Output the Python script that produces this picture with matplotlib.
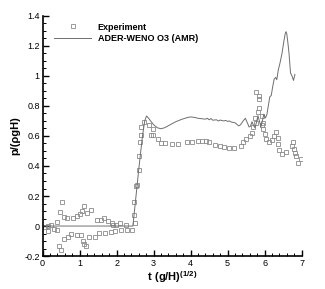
import matplotlib
matplotlib.use("Agg")
import matplotlib.pyplot as plt
from matplotlib.ticker import MultipleLocator

plt.rcParams["font.family"] = ["Liberation Sans", "DejaVu Sans"]
plt.rcParams["mathtext.fontset"] = "custom"
plt.rcParams["mathtext.rm"] = "Liberation Sans"
plt.rcParams["mathtext.bf"] = "Liberation Sans:bold"

# ADER-WENO O3 (AMR) simulation
sim_t = [0, 2.44, 2.5, 2.6, 2.7, 2.76, 2.81, 2.86, 2.92, 3.0, 3.1, 3.2, 3.3, 3.45,
         3.6, 3.75, 3.9, 4.0, 4.1, 4.2, 4.3, 4.4, 4.45, 4.5, 4.55, 4.6, 4.7, 4.75,
         4.8, 4.9, 4.95, 5.0, 5.05, 5.1, 5.2, 5.3, 5.35, 5.42, 5.48, 5.53, 5.58,
         5.62, 5.66, 5.7, 5.74, 5.78, 5.82, 5.86, 5.9, 5.94, 5.98, 6.02, 6.06,
         6.1, 6.14, 6.18, 6.22, 6.26, 6.3, 6.33, 6.37, 6.42, 6.47, 6.52, 6.56,
         6.58, 6.6, 6.63, 6.66, 6.7, 6.74, 6.78, 6.82]
sim_p = [0, 0, 0.14, 0.38, 0.6, 0.7, 0.733, 0.72, 0.7, 0.675, 0.655, 0.648, 0.655,
         0.675, 0.695, 0.71, 0.722, 0.727, 0.724, 0.718, 0.715, 0.712, 0.718,
         0.708, 0.716, 0.705, 0.708, 0.7, 0.706, 0.7, 0.704, 0.697, 0.7, 0.693,
         0.688, 0.667, 0.675, 0.7, 0.718, 0.69, 0.66, 0.665, 0.695, 0.67, 0.655,
         0.69, 0.735, 0.7, 0.66, 0.7, 0.745, 0.72, 0.74, 0.8, 0.86, 0.87, 0.93,
         0.98, 0.99, 0.975, 1.04, 1.09, 1.15, 1.23, 1.285, 1.295, 1.28, 1.22,
         1.15, 1.02, 1.0, 0.97, 1.01]

# experiment
exp_t = [0.07, 0.16, 0.24, 0.16, 0.31, 0.38, 0.39, 0.48, 0.52, 0.58, 0.67, 0.83,
         0.94, 1.01, 1.07, 1.12, 1.2, 1.3, 1.46, 1.58, 1.67, 1.76, 1.87, 1.91,
         1.98, 2.09, 2.25, 2.51,
         0.44, 0.51, 0.58, 0.69, 0.77, 0.94, 1.04, 1.08, 1.13, 1.17, 1.25, 1.41,
         1.53, 1.68, 1.84, 1.96, 2.11, 2.29, 2.43,
         2.46, 2.48, 2.52, 2.56, 2.6, 2.6, 2.62, 2.65, 2.67, 2.75, 2.87, 2.99,
         2.93, 2.99, 3.12, 3.21, 3.31, 3.51, 3.66, 3.9, 4.03, 4.21,
         4.31, 4.42, 4.51, 4.67, 4.79, 4.9, 5.03, 5.18, 5.35, 5.42, 5.51, 5.6,
         5.67, 5.69, 5.74, 5.76, 5.81, 5.85, 5.85, 5.85, 5.78,
         5.92, 5.96, 5.92, 5.96, 6.01, 6.05, 6.12, 6.21, 6.25, 6.32, 6.37, 6.37,
         6.4, 6.48, 6.59, 6.77, 6.75, 6.8, 6.82, 6.86, 6.89, 6.98]
exp_p = [-0.004, 0.0, 0.004, -0.033, -0.022, -0.027, 0.029, 0.095, 0.16, 0.062,
         0.055, 0.051, 0.064, 0.078, 0.1, 0.133, 0.084, 0.106, 0.042, 0.038,
         0.051, 0.033, 0.022, 0.009, 0.009, 0.018, 0.009, 0.018,
         -0.13, -0.157, -0.088, -0.071, -0.055, -0.06, -0.06, -0.1, -0.122,
         -0.135, -0.073, -0.073, -0.049, -0.049, -0.038, -0.033, -0.028, -0.026,
         -0.024,
         0.075, 0.162, 0.267, 0.272, 0.374, 0.467, 0.56, 0.605, 0.663, 0.696,
         0.674, 0.649, 0.605, 0.605, 0.578, 0.551, 0.551, 0.549, 0.549, 0.558,
         0.562, 0.564,
         0.564, 0.564, 0.56, 0.538, 0.533, 0.529, 0.522, 0.522, 0.533, 0.56,
         0.582, 0.6, 0.622, 0.662, 0.722, 0.689, 0.76, 0.789, 0.845, 0.867,
         0.894,
         0.733, 0.689, 0.671, 0.644, 0.611, 0.582, 0.56, 0.573, 0.6, 0.627,
         0.589, 0.544, 0.504, 0.482, 0.493, 0.562, 0.533, 0.516, 0.489, 0.467,
         0.422, 0.444]

x_ticks = [0, 1, 2, 3, 4, 5, 6, 7]
y_ticks = [-0.2, 0, 0.2, 0.4, 0.6, 0.8, 1.0, 1.2, 1.4]
y_labels = ["-0.2", "0", "0.2", "0.4", "0.6", "0.8", "1", "1.2", "1.4"]

fig = plt.figure(figsize=(3.25, 2.89), dpi=100)
ax = fig.add_axes([0.131, 0.114, 0.797, 0.831])

ax.plot(exp_t, exp_p, linestyle="none", marker="s", markersize=2.2,
        markerfacecolor="none", markeredgecolor="#8a8a8a", markeredgewidth=0.6,
        label="Experiment")
ax.plot(sim_t, sim_p, color="#6e6e6e", linewidth=0.7, label="ADER-WENO O3 (AMR)")

ax.set_xlim(0, 7)
ax.set_ylim(-0.2, 1.4)
ax.set_xticks(x_ticks)
ax.set_xticklabels([str(v) for v in x_ticks])
ax.set_yticks(y_ticks)
ax.set_yticklabels(y_labels)
ax.xaxis.set_minor_locator(MultipleLocator(0.2))
ax.yaxis.set_minor_locator(MultipleLocator(0.05))

# tecplot-like frame: left and bottom only, ticks pointing in
ax.spines["top"].set_visible(False)
ax.spines["right"].set_visible(False)
ax.spines["left"].set_linewidth(1.2)
ax.spines["bottom"].set_linewidth(1.2)
ax.tick_params(which="major", direction="in", length=4, width=1, labelsize=6.5, pad=2)
ax.tick_params(which="minor", direction="in", length=2, width=0.7)

ax.set_xlabel(r"$\mathbf{t\ (g/H)^{(1/2)}}$", fontsize=8, labelpad=1)
ax.set_ylabel("p/(ρgH)", fontsize=8, fontweight="bold", labelpad=3)

leg = ax.legend(loc="upper left", bbox_to_anchor=(0.025, 0.995), frameon=False,
                fontsize=6.5, handlelength=4, handletextpad=0.8,
                labelspacing=0.3, borderaxespad=0.2)
for t in leg.get_texts():
    t.set_fontweight("bold")

plt.savefig("out.png", dpi=100)
